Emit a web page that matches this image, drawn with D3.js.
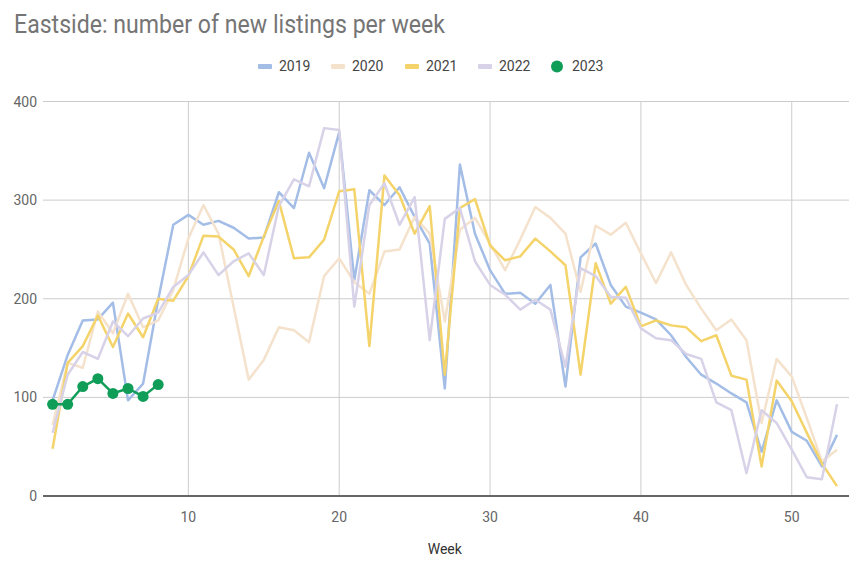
<!DOCTYPE html>
<html><head><meta charset="utf-8">
<script src="https://cdn.jsdelivr.net/npm/d3@7"></script>
<style>body{margin:0;background:#fff;} text{font-family:Roboto, "Noto Sans", sans-serif;}</style>
</head><body><svg id="c" width="864" height="576"></svg>
<script>
const weeks = d3.range(1, 54);
const years = ["2019","2020","2021","2022","2023"];
const colors = ["#a3bde6","#f4e2cd","#f4d46a","#d8d2e8","#0f9d58"];
const v2019 = [97,143,178,179,196,97,114,199,275,285,275,279,272,261,262,308,292,348,312,369,219,310,295,313,283,256,109,336,266,229,205,206,195,214,111,242,256,214,192,186,179,163,141,123,114,104,95,45,97,65,56,30,62];
const v2020 = [72,135,130,187,165,205,171,178,209,261,295,266,192,118,138,171,168,156,223,241,217,205,248,250,283,266,177,270,282,256,229,260,293,282,266,207,274,265,277,246,216,247,214,190,168,179,158,74,139,121,79,35,47];
const v2021 = [48,135,152,183,151,185,161,200,198,223,264,263,250,223,263,299,241,242,260,309,311,152,325,305,266,294,123,292,301,254,239,243,261,248,234,123,236,195,212,172,178,173,171,157,163,122,118,30,117,96,64,33,10];
const v2022 = [64,123,146,139,177,162,180,186,212,224,247,224,238,246,224,294,321,314,373,371,192,295,317,275,303,158,281,292,238,214,204,189,199,189,131,231,223,202,201,170,160,158,144,139,95,87,23,87,74,47,19,17,93];
const v2023 = [93,93,111,119,104,109,101,113];
const yTicks = [0,100,200,300,400];
const xTicks = [10,20,30,40,50];
const title = "Eastside: number of new listings per week";
const xTitle = "Week";

const series = [v2019, v2020, v2021, v2022, v2023];
const svg = d3.select("#c");
const x = d3.scaleLinear().domain([1,53]).range([52.6,837]);
const y = d3.scaleLinear().domain([0,400]).range([496,101.5]);

svg.append("text").attr("x",14).attr("y",33).attr("font-size",25).attr("fill","#757575")
  .attr("textLength",431).attr("lengthAdjust","spacingAndGlyphs").text(title);

// grid
svg.append("g").selectAll("line.h").data(yTicks.slice(1)).join("line")
  .attr("x1",43).attr("x2",849).attr("y1",d=>y(d)).attr("y2",d=>y(d))
  .attr("stroke","#cccccc").attr("stroke-width",1);
svg.append("g").selectAll("line.v").data(xTicks).join("line")
  .attr("x1",d=>x(d)).attr("x2",d=>x(d)).attr("y1",y(400)).attr("y2",y(0))
  .attr("stroke","#cccccc").attr("stroke-width",1);

// y labels
svg.append("g").selectAll("text").data(yTicks).join("text")
  .attr("x",37).attr("y",d=>y(d)+5).attr("text-anchor","end")
  .attr("font-size",14).attr("fill","#666").text(d=>d);
// x labels
svg.append("g").selectAll("text").data(xTicks).join("text")
  .attr("x",d=>x(d)).attr("y",522).attr("text-anchor","middle")
  .attr("font-size",14).attr("fill","#666").text(d=>d);
svg.append("text").attr("x",x(27)).attr("y",554).attr("text-anchor","middle")
  .attr("font-size",14).attr("fill","#333").text(xTitle);

const line = d3.line().x((d,i)=>x(weeks[i])).y(d=>y(d));
series.forEach((s,i)=>{
  svg.append("path").datum(s).attr("d",line).attr("fill","none")
    .attr("stroke",colors[i]).attr("stroke-width",2.5).attr("stroke-linejoin","round");
});
svg.append("g").selectAll("circle").data(v2023).join("circle")
  .attr("cx",(d,i)=>x(weeks[i])).attr("cy",d=>y(d)).attr("r",5.5).attr("fill",colors[4]);

// baseline
svg.append("line").attr("x1",43).attr("x2",849).attr("y1",y(0)).attr("y2",y(0))
  .attr("stroke","#666").attr("stroke-width",2);

// legend
const lx = [258, 331, 405, 478, 551];
const lg = svg.append("g");
years.forEach((yr,i)=>{
  if(i<4){
    lg.append("rect").attr("x",lx[i]).attr("y",64).attr("width",14).attr("height",5).attr("rx",1).attr("fill",colors[i]);
  } else {
    lg.append("circle").attr("cx",lx[i]+6).attr("cy",66.5).attr("r",6).attr("fill",colors[i]);
  }
  lg.append("text").attr("x",lx[i]+21).attr("y",71).attr("font-size",14).attr("fill","#444").text(yr);
});
</script></body></html>
